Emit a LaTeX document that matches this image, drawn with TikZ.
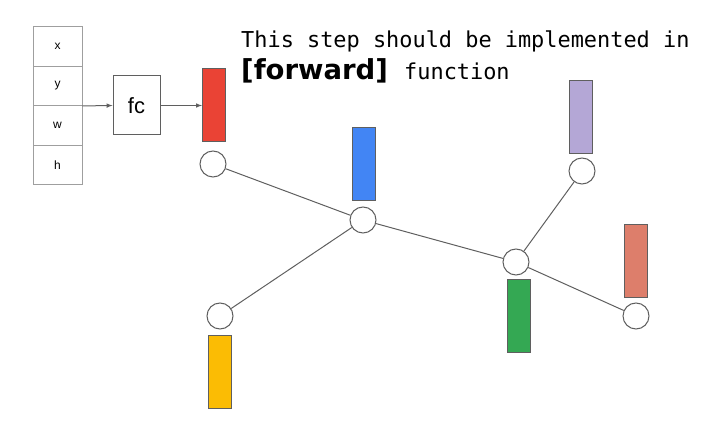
\documentclass[tikz,border=0pt]{standalone}
\usepackage{fontspec}
\setmainfont{Liberation Sans}
\setsansfont{DejaVu Sans}
\newfontfamily\codefont{DejaVu Sans Mono}
\usepackage{tikz}
\usetikzlibrary{calc,arrows}
\usepackage{xcolor}
\definecolor{linegray}{HTML}{5F5F5F}
\definecolor{gred}{HTML}{EA4335}
\definecolor{gblue}{HTML}{4285F4}
\definecolor{gpurple}{HTML}{B4A7D6}
\definecolor{ggreen}{HTML}{34A853}
\definecolor{gsalmon}{HTML}{DD7E6B}
\definecolor{gyellow}{HTML}{FBBC04}

\begin{document}
\begin{tikzpicture}
	[   x=1pt,y=-1pt,
	    cell/.style={draw=linegray!60,line width=0.9pt,minimum width=49pt,minimum height=39.5pt,inner sep=0pt,font=\fontsize{12}{14}\selectfont},
	    cnode/.style={draw=linegray,line width=1pt,fill=white,circle,minimum size=26pt,inner sep=0pt},
	    bar/.style={draw=linegray,line width=1pt,fill=#1,minimum width=23pt,minimum height=73pt,inner sep=0pt},
	]
	\tikzset{normal arrow/.style={draw=linegray,line width=1pt,-latex}}
	\useasboundingbox (0,0) rectangle (720,435);
	
	% input table
	\foreach \t [count=\i] in {x,y,w,h}
	{
		\node[cell] (cell-\i) at (57.5,{26.5+39.5*\i-19.75}) {\t};
	}
	\node[draw=linegray,line width=1pt,minimum width=47pt,minimum height=59pt,inner sep=0pt,font=\fontsize{22}{26}\selectfont] (fc) at (136.5,105.5) {fc};
	
	% feature bars
	\node[bar=gred] (b-red) at (214,105.5) {};
	\node[bar=gblue] (b-blue) at (363.5,164) {};
	\node[bar=gpurple] (b-purple) at (581,117.5) {};
	\node[bar=ggreen] (b-green) at (518.5,316) {};
	\node[bar=gsalmon] (b-salmon) at (635.5,261.5) {};
	\node[bar=gyellow] (b-yellow) at (220,372) {};
	
	% tree nodes
	\node[cnode] (n-red) at (213,164) {};
	\node[cnode] (n-blue) at (363,220) {};
	\node[cnode] (n-purple) at (582,171) {};
	\node[cnode] (n-green) at (516,262) {};
	\node[cnode] (n-salmon) at (636,316) {};
	\node[cnode] (n-yellow) at (220,316) {};
	
	\path[normal arrow] (cell-2.south east) -- (fc.west);
	\path[normal arrow] (fc.east) -- (b-red.west);
	
	\foreach \a/\b in {red/blue,blue/green,blue/yellow,green/purple,green/salmon}
		\draw[linegray,line width=1pt] (n-\a) -- (n-\b);
	
	% caption
	\node[anchor=base west,inner sep=0pt,font=\codefont\fontsize{21.9}{26}\selectfont] (cap-1) at (241,48) {This step should be implemented in};
	\node[anchor=base west,inner sep=0pt,font=\sffamily\bfseries\fontsize{27.5}{30}\selectfont] (cap-2) at (241,80) {[forward]};
	\node[anchor=base west,inner sep=0pt,font=\codefont\fontsize{21.9}{26}\selectfont] (cap-3) at (404,80) {function};
\end{tikzpicture}
\end{document}
